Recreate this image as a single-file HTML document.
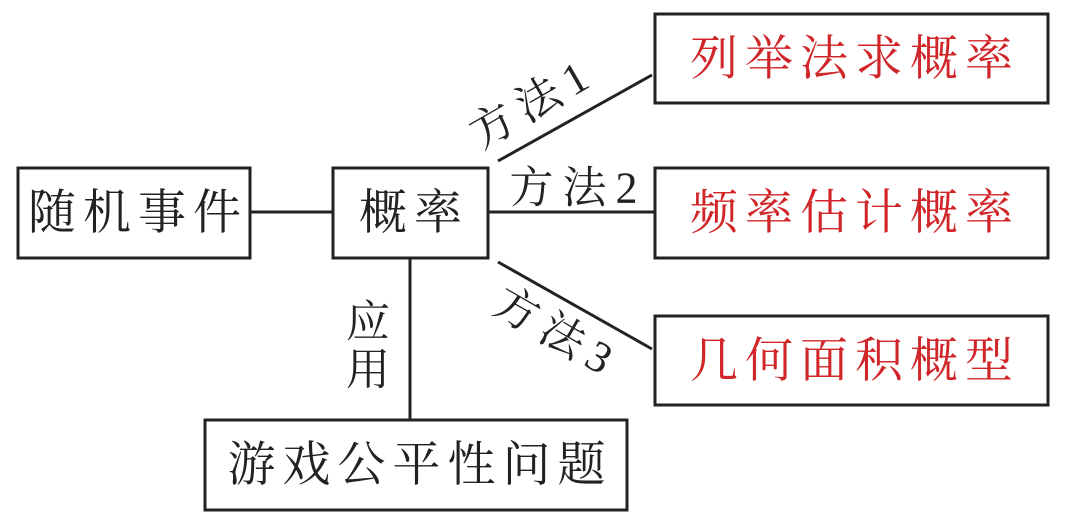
<!DOCTYPE html>
<html><head><meta charset="utf-8"><style>
body{margin:0;width:1065px;height:519px;background:#fff;overflow:hidden}
svg text{font-family:"Liberation Serif","Noto Serif CJK SC",serif;font-size:48px;letter-spacing:7px;text-anchor:middle;dominant-baseline:central}
</style></head><body>
<svg width="1065" height="519" viewBox="0 0 1065 519">
<g fill="none" stroke="#222" stroke-width="3">
<rect x="18" y="168" width="232" height="90"/>
<rect x="333" y="168" width="155" height="90"/>
<rect x="655" y="14" width="393" height="89"/>
<rect x="655" y="168" width="393" height="90"/>
<rect x="655" y="316" width="393" height="89"/>
<rect x="205" y="420" width="422" height="90"/>
<line x1="250" y1="212" x2="333" y2="212"/>
<line x1="488" y1="212" x2="655" y2="212"/>
<line x1="498" y1="161" x2="652" y2="75"/>
<line x1="498" y1="262" x2="652" y2="349"/>
<line x1="410" y1="258" x2="410" y2="420"/>
</g>
<g fill="#222">
<text x="138" y="213">随机事件</text>
<text x="414" y="213">概率</text>
<text x="420" y="465">游戏公平性问题</text>
<text x="368" y="322" style="letter-spacing:0;font-size:44px">应</text>
<text x="368" y="370" style="letter-spacing:0;font-size:44px">用</text>
<text x="578" y="188" style="font-size:44px;letter-spacing:9px">方法2</text>
<text transform="translate(533,103) rotate(-30)" style="font-size:44px;letter-spacing:9px">方法1</text>
<text transform="translate(557,333) rotate(30)" style="font-size:44px;letter-spacing:9px">方法3</text>
</g>
<g fill="#d0262a">
<text x="855" y="59">列举法求概率</text>
<text x="855" y="213">频率估计概率</text>
<text x="855" y="361">几何面积概型</text>
</g>
</svg>
</body></html>
